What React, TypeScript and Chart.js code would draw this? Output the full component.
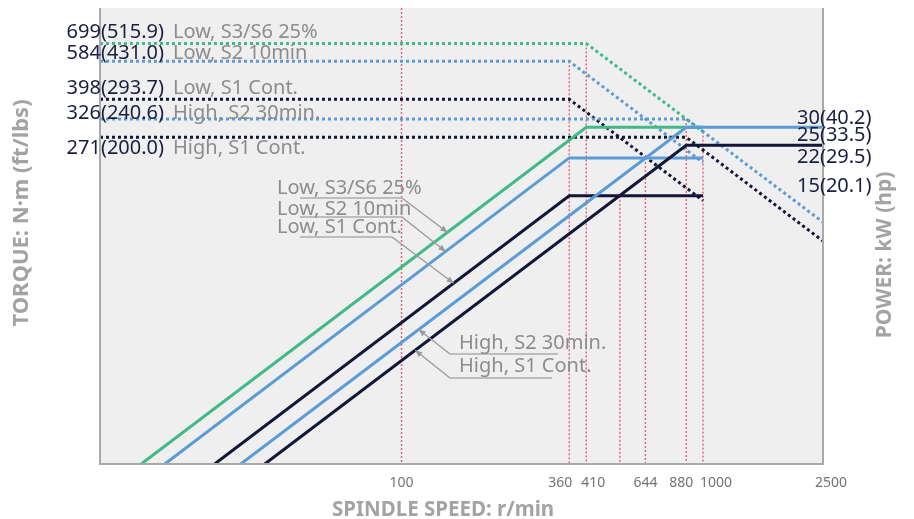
import { useEffect, useRef } from "react";
import { Chart, registerables } from "chart.js";

Chart.register(...registerables);

const FONT = '"Noto Sans", sans-serif';

// ---- data ----
const speedTickValues = [100, 360, 410, 644, 880, 1000, 2500];

const refLineSpeeds = [100, 360, 410, 530, 644, 880, 1000];
const refLineTopTorque = [1000, 584, 699, 150, 220, 326, 287];

const curveNames = ["Low, S3/S6 25%", "Low, S2 10min", "Low, S1 Cont.", "High, S2 30min.", "High, S1 Cont."];
const torqueNm = [699, 584, 398, 326, 271];
const torqueFtLbs = ["515.9", "431.0", "293.7", "240.6", "200.0"];
const torqueEndNm = [287, 210, 143, 115, 95];
const baseSpeed = [410, 360, 360, 880, 880];
const maxSpeed = [1000, 1000, 1000, 2500, 2500];
const powerKw = [30, 22, 15, 30, 25];
const powerStartSpeed = [13.7, 16.4, 24, 29.3, 35.2];
const annTargetSpeed = [142, 140, 149, 114, 111];

const powerAxisKw = [30, 25, 22, 15];
const powerAxisHp = ["40.2", "33.5", "29.5", "20.1"];

// ---- layout / style ----
const curveColors = ["#3fba88", "#5b9bd6", "#121638", "#5b9bd6", "#121638"];
const speedTickShift = [0, -9, 7, 0, -5, 13, 8];
const torqueLabelOffset = [-11, -8, -11, -6, 11];
const powerLabelOffset = [-9, -10, -1, -10];
const annTextX = [277, 277, 277, 459, 459];
const annTextY = [188, 209, 227, 343, 366];
const annLineY = [198, 217, 237, 354, 378];
const annLineX0 = [300, 300, 300, 450, 450];
const annLineX1 = [402, 402, 392, 558, 552];
const annElbowX = [402, 402, 392, 450, 450];

const NAVY = "#1a1e3e";
const GRAY_TXT = "#8c8c8c";
const TITLE_GRAY = "#a3a3a3";

const customPlugin = {
  id: "customDraw",
  beforeDraw(chart: any) {
    const { ctx, chartArea: a } = chart;
    ctx.save();
    ctx.fillStyle = "#efefef";
    ctx.fillRect(a.left, a.top, a.right - a.left, a.bottom - a.top);
    ctx.restore();
  },
  afterDraw(chart: any) {
    const { ctx, chartArea: a, scales } = chart;
    const xs = scales.x;
    const yt = scales.y;
    const yp = scales.y2;
    ctx.save();
    // borders
    ctx.strokeStyle = "#a9a9a9";
    ctx.lineWidth = 2;
    ctx.beginPath();
    ctx.moveTo(a.left, a.top);
    ctx.lineTo(a.left, a.bottom);
    ctx.lineTo(a.right, a.bottom);
    ctx.lineTo(a.right, a.top);
    ctx.stroke();

    // x tick labels
    ctx.font = `14px ${FONT}`;
    ctx.fillStyle = "#737373";
    ctx.textAlign = "center";
    ctx.textBaseline = "middle";
    speedTickValues.forEach((v, i) => {
      ctx.fillText(String(v), xs.getPixelForValue(v) + speedTickShift[i], 483);
    });

    // left torque labels
    ctx.textBaseline = "middle";
    torqueNm.forEach((t, i) => {
      const y = yt.getPixelForValue(t) + torqueLabelOffset[i];
      ctx.font = `20px ${FONT}`;
      ctx.fillStyle = NAVY;
      ctx.textAlign = "right";
      ctx.fillText(`${t}(${torqueFtLbs[i]})`, 164, y);
      ctx.font = `20px ${FONT}`;
      ctx.fillStyle = GRAY_TXT;
      ctx.textAlign = "left";
      ctx.fillText(curveNames[i], 173, y);
    });

    // right power labels
    ctx.font = `20px ${FONT}`;
    ctx.fillStyle = NAVY;
    ctx.textAlign = "left";
    powerAxisKw.forEach((p, i) => {
      const y = yp.getPixelForValue(p) + powerLabelOffset[i];
      ctx.fillText(`${p}(${powerAxisHp[i]})`, 797, y);
    });

    // annotations
    curveNames.forEach((name, i) => {
      const s = annTargetSpeed[i];
      const p = (powerKw[i] * s) / baseSpeed[i];
      const tx = xs.getPixelForValue(s);
      const ty = yp.getPixelForValue(p);
      ctx.strokeStyle = "#bdbdbd";
      ctx.lineWidth = 2;
      ctx.beginPath();
      ctx.moveTo(annLineX0[i], annLineY[i]);
      ctx.lineTo(annLineX1[i], annLineY[i]);
      ctx.stroke();
      ctx.strokeStyle = "#9a9a9a";
      ctx.lineWidth = 1.3;
      ctx.beginPath();
      ctx.moveTo(annElbowX[i], annLineY[i]);
      ctx.lineTo(tx, ty);
      ctx.stroke();
      const ang = Math.atan2(ty - annLineY[i], tx - annElbowX[i]);
      const L = 7, W = 3;
      ctx.fillStyle = "#9a9a9a";
      ctx.beginPath();
      ctx.moveTo(tx, ty);
      ctx.lineTo(tx - L * Math.cos(ang) + W * Math.sin(ang), ty - L * Math.sin(ang) - W * Math.cos(ang));
      ctx.lineTo(tx - L * Math.cos(ang) - W * Math.sin(ang), ty - L * Math.sin(ang) + W * Math.cos(ang));
      ctx.closePath();
      ctx.fill();
      ctx.font = `20px ${FONT}`;
      ctx.fillStyle = GRAY_TXT;
      ctx.textAlign = "left";
      ctx.textBaseline = "middle";
      ctx.fillText(name, annTextX[i], annTextY[i]);
    });

    // axis titles
    ctx.fillStyle = TITLE_GRAY;
    ctx.textBaseline = "middle";
    ctx.font = `bold 20.5px ${FONT}`;
    ctx.textAlign = "left";
    ctx.fillText("SPINDLE SPEED: r/min", 332, 510);
    ctx.textAlign = "center";
    ctx.save();
    ctx.font = `bold 22px ${FONT}`;
    ctx.translate(22, 213);
    ctx.rotate(-Math.PI / 2);
    ctx.fillText("TORQUE: N·m (ft/lbs)", 0, 0);
    ctx.restore();
    ctx.save();
    ctx.font = `bold 21px ${FONT}`;
    ctx.translate(885, 255);
    ctx.rotate(-Math.PI / 2);
    ctx.fillText("POWER: kW (hp)", 0, 0);
    ctx.restore();
    ctx.restore();
  },
};

export default function App() {
  const ref = useRef<HTMLCanvasElement | null>(null);
  useEffect(() => {
    if (!ref.current) return;
    const datasets: any[] = [];
    refLineSpeeds.forEach((s, i) => {
      datasets.push({
        data: [
          { x: s, y: refLineTopTorque[i] },
          { x: s, y: 10 },
        ],
        yAxisID: "y",
        borderColor: "rgba(228,72,96,0.85)",
        borderWidth: 1.4,
        borderDash: [2, 2],
        pointRadius: 0,
        order: 100,
      });
    });
    curveNames.forEach((name, i) => {
      datasets.push({
        label: name + " torque",
        data: [
          { x: 10, y: torqueNm[i] },
          { x: baseSpeed[i], y: torqueNm[i] },
          { x: maxSpeed[i], y: torqueEndNm[i] },
        ],
        yAxisID: "y",
        borderColor: curveColors[i],
        borderWidth: 3,
        borderDash: [3, 3],
        pointRadius: 0,
        order: 60 - i,
      });
    });
    curveNames.forEach((name, i) => {
      datasets.push({
        label: name + " power",
        data: [
          { x: powerStartSpeed[i], y: 1 },
          { x: baseSpeed[i], y: powerKw[i] },
          { x: maxSpeed[i], y: powerKw[i] },
        ],
        yAxisID: "y2",
        borderColor: curveColors[i],
        borderWidth: 3,
        pointRadius: 0,
        order: 30 - i,
      });
    });
    const fit0h = (s: any) => {
      s.height = 0;
    };
    const fit0w = (s: any) => {
      s.width = 0;
    };
    const chart = new Chart(ref.current, {
      type: "line",
      data: { datasets },
      options: {
        animation: false,
        responsive: false,
        devicePixelRatio: 1,
        layout: { padding: { left: 100, right: 91, top: 8, bottom: 55 } },
        plugins: { legend: { display: false }, tooltip: { enabled: false } },
        elements: { line: { tension: 0, borderCapStyle: "butt" } },
        scales: {
          x: {
            type: "logarithmic",
            min: 10,
            max: 2500,
            grid: { display: false },
            border: { display: false },
            ticks: { display: false },
            afterFit: fit0h,
          },
          y: {
            type: "logarithmic",
            position: "left",
            min: 10,
            max: 1000,
            grid: { display: false },
            border: { display: false },
            ticks: { display: false },
            afterFit: fit0w,
          },
          y2: {
            type: "logarithmic",
            position: "right",
            min: 1,
            max: 100,
            grid: { display: false },
            border: { display: false },
            ticks: { display: false },
            afterFit: fit0w,
          },
        },
      } as any,
      plugins: [customPlugin],
    });
    return () => chart.destroy();
  }, []);
  return (
    <div style={{ position: "absolute", left: 0, top: 0, width: 914, height: 519 }}>
      <canvas ref={ref} width={914} height={519} style={{ width: 914, height: 519 }} />
    </div>
  );
}
